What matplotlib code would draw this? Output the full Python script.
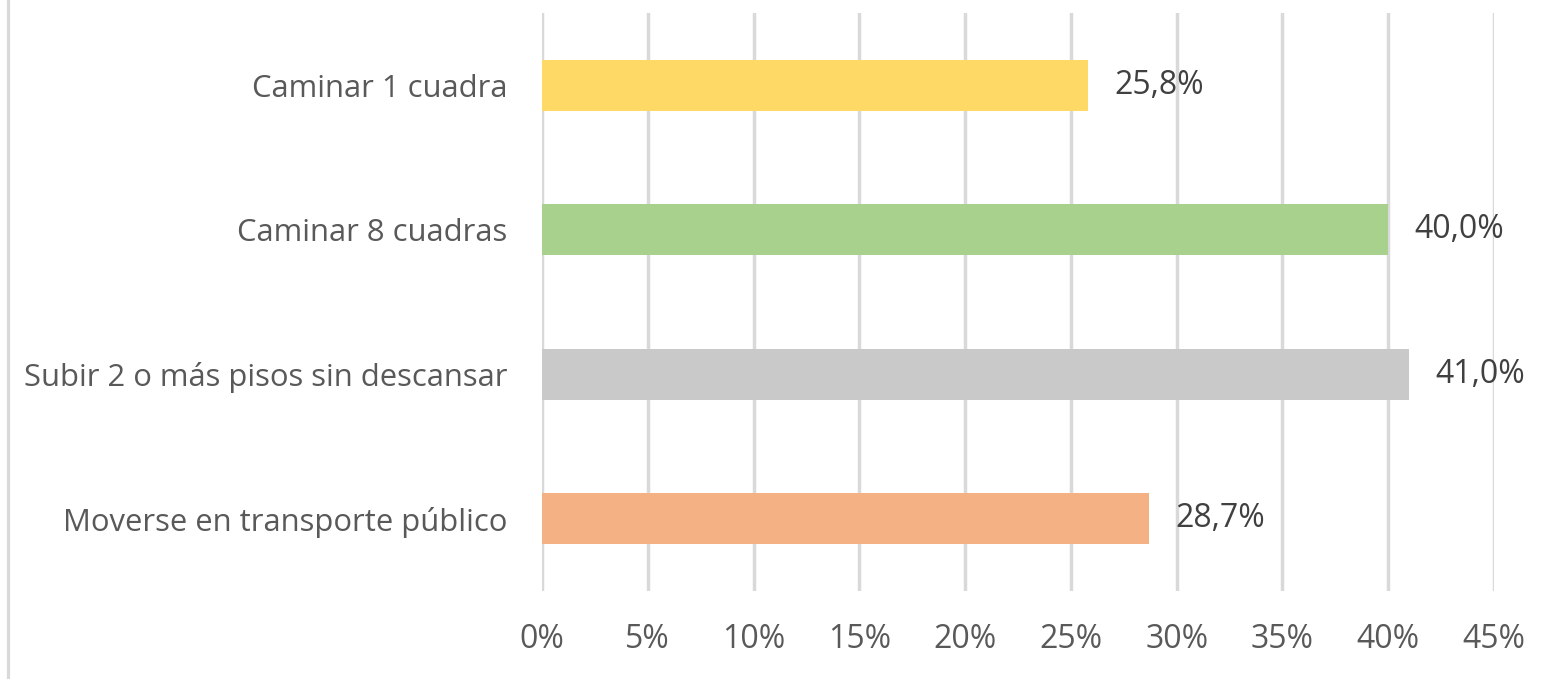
import matplotlib
matplotlib.use("Agg")
import matplotlib.pyplot as plt
from matplotlib.lines import Line2D
from matplotlib.ticker import PercentFormatter

categories = ["Caminar 1 cuadra", "Caminar 8 cuadras",
              "Subir 2 o más pisos sin descansar", "Moverse en transporte público"]
values = [25.8, 40.0, 41.0, 28.7]
colors = ["#FFD966", "#A9D18E", "#C9C9C9", "#F4B183"]
xticks = [0, 5, 10, 15, 20, 25, 30, 35, 40, 45]

plt.rcParams['font.family'] = ['Open Sans', 'DejaVu Sans']

fig = plt.figure(figsize=(15.61, 6.79), dpi=100)
ax = fig.add_axes([542/1561, 88/679, (1494-542)/1561, (591-13)/679])

y = list(range(len(categories)))
ax.barh(y, values, height=0.35, color=colors, zorder=3)
ax.set_ylim(len(categories) - 0.5, -0.5)
ax.set_xlim(0, 45)
ax.set_xticks(xticks)
ax.xaxis.set_major_formatter(PercentFormatter(decimals=0))
ax.set_yticks(y)
ax.set_yticklabels(categories, fontsize=22.3)
ax.tick_params(axis='both', length=0, colors="#595959")
ax.tick_params(axis='x', labelsize=23, pad=23)
ax.tick_params(axis='y', pad=25)
ax.grid(axis='x', color="#D9D9D9", linewidth=2.5, zorder=0)
for s in ax.spines.values():
    s.set_visible(False)

for yi, v in zip(y, values):
    ax.annotate(f"{v:.1f}%".replace(".", ","), (v, yi), xytext=(19, 0),
                textcoords="offset points", ha="left", va="center",
                fontsize=23, color="#404040")

fig.add_artist(Line2D([7.5/1561, 7.5/1561], [0, 1], color="#D9D9D9", linewidth=2.3,
                      transform=fig.transFigure))

fig.savefig("out.png", dpi=100)
